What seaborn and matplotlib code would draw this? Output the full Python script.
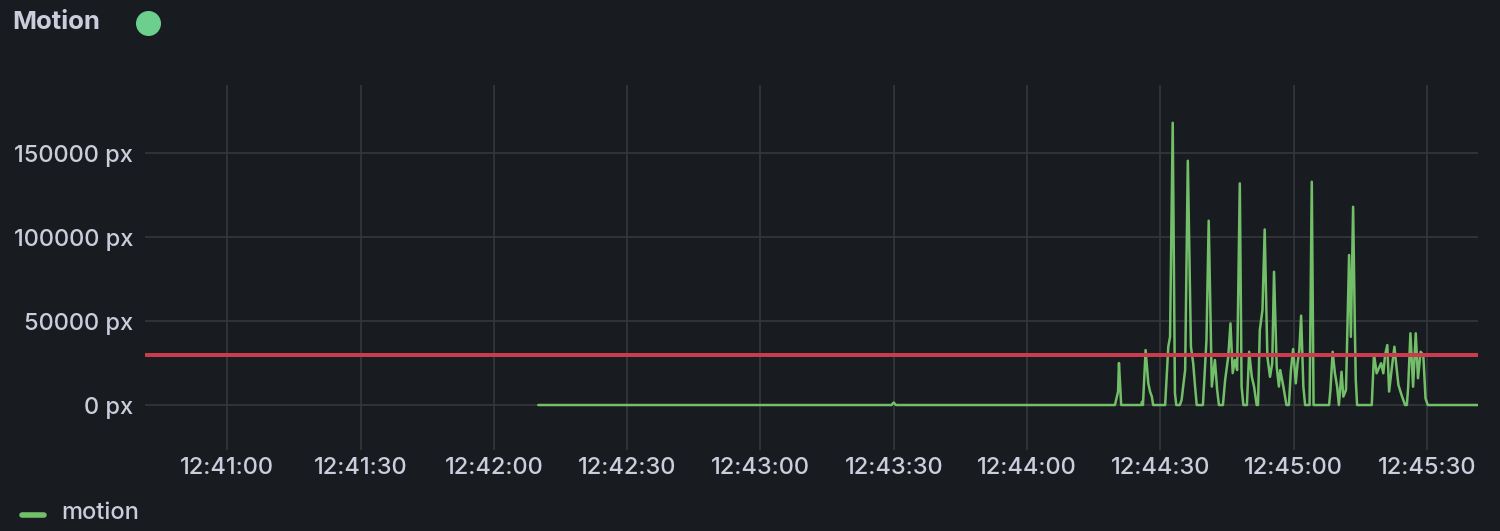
import pandas as pd
import matplotlib.pyplot as plt
import matplotlib.dates as mdates
import seaborn as sns
from matplotlib.lines import Line2D

#------data------
# seconds relative to 12:44:00, motion in px
secs = [-110, -30.5, -30, -29.5, 19.8,
        20.5, 20.7, 20.9, 21.2,
        25.7, 25.9, 26.1, 26.7, 27.3, 27.7, 28.1, 28.4,
        31.1, 31.8, 32.2, 32.8, 33.3, 33.6, 34.4, 34.8, 35.6, 36.2, 36.9, 37.4, 37.8, 38.2,
        39.6, 40.4, 40.9, 41.6, 42.3, 42.8, 43.2,
        44.1, 44.6, 45.3, 45.8, 46.3, 46.8, 47.3, 47.9, 48.3, 48.7,
        49.5, 50.0, 50.6, 51.1, 51.7,
        52.0, 52.4, 53.0, 53.5, 54.1, 54.7, 55.2, 55.6, 56.2, 56.7, 57.0, 57.7, 58.4,
        58.95, 59.4, 59.9, 60.5, 60.9, 61.3, 61.7, 62.2, 62.6,
        63.6, 64.1, 64.5,
        68.0, 68.3, 68.8, 69.3, 69.8, 70.2, 70.8, 71.2, 71.8, 72.5, 72.9, 73.4, 73.8, 74.0, 74.3,
        77.6, 78.1, 78.7, 79.2, 79.7, 80.2, 80.6, 81.1, 81.5, 82.1, 82.7, 83.2, 83.6, 84.3, 85.1,
        85.5, 85.8, 86.3, 86.9, 87.5, 88.0, 88.6, 89.2, 89.7, 90.2,
        101.5]
motion = [0, 0, 1500, 0, 0,
          8000, 25000, 15000, 0,
          0, 2000, 0, 32700, 13000, 8000, 5000, 0,
          0, 34700, 40600, 168000, 7000, 0, 0, 3000, 21000, 145400, 34700, 25000, 12000, 0,
          0, 38700, 109700, 11000, 26800, 9000, 0,
          0, 15000, 28800, 48600, 19000, 26800, 20800, 131900, 11000, 0,
          0, 31700, 16800, 11000, 0,
          0, 44600, 56500, 104500, 28800, 16800, 24800, 79300, 22800, 11000, 20800, 11000, 0,
          0, 20800, 33300, 12900, 24800, 32700, 53200, 11000, 0,
          0, 132900, 0,
          0, 9000, 31700, 19000, 11000, 0, 19800, 5000, 9000, 89300, 40600, 118000, 44600, 15000, 0,
          0, 30200, 18900, 21900, 24900, 18900, 29800, 35700, 8000, 21800, 34700, 21800, 11900, 6000, 0,
          0, 10900, 42700, 10900, 42700, 15900, 31700, 29800, 4000, 0,
          0]
threshold = 30000
yticks = [0, 50000, 100000, 150000]

base = pd.Timestamp("2024-01-01 12:44:00")
df = pd.DataFrame({"time": base + pd.to_timedelta(secs, unit="s"), "motion": motion})

#------style------
bg = "#181b1f"
txt = "#ccccdc"
sns.set_style("dark", {"axes.facecolor": bg, "figure.facecolor": bg})
plt.rcParams['font.family'] = ['Inter', 'DejaVu Sans']
plt.rcParams['font.weight'] = 'medium'

fig = plt.figure(figsize=(15, 5.31), dpi=100)
ax = fig.add_axes([0.0967, 0.1525, 0.8886, 0.6874])

sns.lineplot(data=df, x="time", y="motion", ax=ax, color="#73bf69", linewidth=1.8)
ax.axhline(threshold, color="#c93c4e", linewidth=2.9)

ax.set_xlim(base + pd.Timedelta(seconds=-198.5), base + pd.Timedelta(seconds=101.5))
ax.set_ylim(-26786, 190476)
ax.set_yticks(yticks)
ax.set_yticklabels([f"{v} px" for v in yticks])
ax.xaxis.set_major_locator(mdates.SecondLocator(bysecond=[0, 30]))
ax.xaxis.set_major_formatter(mdates.DateFormatter("%H:%M:%S"))

ax.grid(True, color="#34373c", linewidth=1.2)
for s in ax.spines.values():
    s.set_visible(False)
ax.tick_params(colors=txt, labelsize=17, length=0)
ax.tick_params(axis="y", pad=8.5)
ax.tick_params(axis="x", pad=5)
ax.set_xlabel("")
ax.set_ylabel("")

#------title and legend------
fig.text(0.008, 0.957, "Motion", color=txt, fontsize=18.5, fontweight="bold", va="center")
fig.add_artist(Line2D([0.0987], [0.957], marker="o", markersize=17, color="#6ccf8e",
                      transform=fig.transFigure))
fig.add_artist(Line2D([0.0147, 0.029], [0.031, 0.031], color="#73bf69", linewidth=4,
                      solid_capstyle="round", transform=fig.transFigure))
fig.text(0.041, 0.033, "motion", color=txt, fontsize=17, va="center")

fig.savefig("out.png", dpi=100, facecolor=bg)
